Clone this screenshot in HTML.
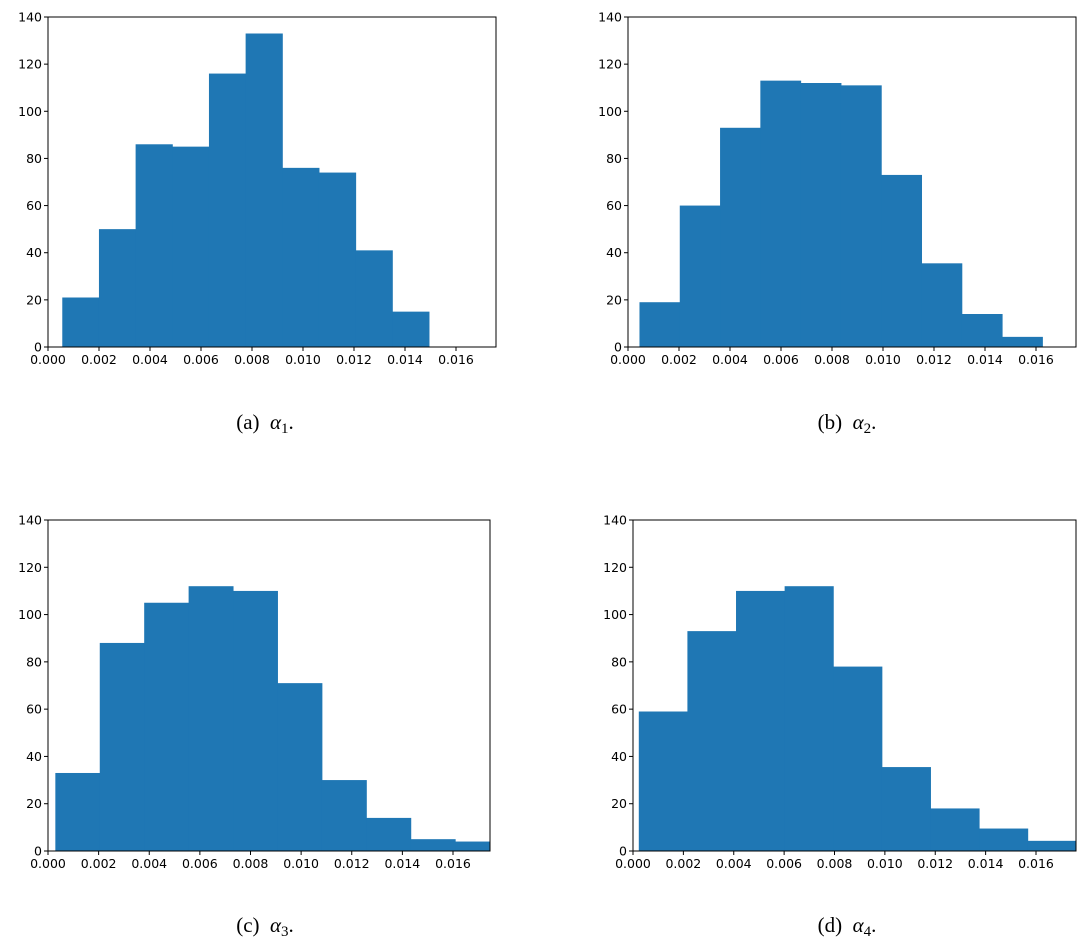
<!DOCTYPE html>
<html><head><meta charset="utf-8">
<style>
html,body{margin:0;padding:0;background:#fff;}
svg{display:block;}
text{font-family:"DejaVu Sans","Liberation Sans",sans-serif;}
.cap{font-family:"Liberation Serif","DejaVu Serif",serif;font-size:21px;}
</style></head>
<body>
<svg id="fig" width="1080" height="939" viewBox="0 0 1080 939"></svg>
<script>
// panel data
const countsA = [21,50,86,85,116,133,76,74,41,15];
const startA = 0.00056, widthA = 0.001438;
const countsB = [19,60,93,113,112,111,73,35.5,14,4.3];
const startB = 0.00045, widthB = 0.00158;
const countsC = [33,88,105,112,110,71,30,14,5,4];
const startC = 0.00029, widthC = 0.001755;
const countsD = [59,93,110,112,78,35.5,18,9.5,4.3];
const startD = 0.00023, widthD = 0.00193;
const xTicks = [0,0.002,0.004,0.006,0.008,0.010,0.012,0.014,0.016];
const xTickLabels = ["0.000","0.002","0.004","0.006","0.008","0.010","0.012","0.014","0.016"];
const yTicks = [0,20,40,60,80,100,120,140];
const captionLetters = ["(a)","(b)","(c)","(d)"];

const NS="http://www.w3.org/2000/svg";
const svg=document.getElementById('fig');
function mk(tag,attrs,parent){const e=document.createElementNS(NS,tag);for(const k in attrs)e.setAttribute(k,attrs[k]);(parent||svg).appendChild(e);return e;}

const panels=[
 {id:'a',counts:countsA,start:startA,width:widthA,L:48,R:496,T:17,B:347,x16:456,cx:265,cy:431},
 {id:'b',counts:countsB,start:startB,width:widthB,L:628,R:1076,T:17,B:347,x16:1036,cx:847,cy:431},
 {id:'c',counts:countsC,start:startC,width:widthC,L:48,R:490,T:520,B:851,x16:453,cx:265,cy:934},
 {id:'d',counts:countsD,start:startD,width:widthD,L:633,R:1076,T:520,B:851,x16:1036,cx:847,cy:934}
];

panels.forEach((p,pi)=>{
  const g=mk('g',{});
  
  
  const xs=v=>p.L+v*(p.x16-p.L)/0.016;
  const ys=v=>p.B-v*(p.B-p.T)/140;
  const clipId='clip'+p.id;
  const cp=mk('clipPath',{id:clipId},g);
  mk('rect',{x:p.L,y:p.T,width:p.R-p.L,height:p.B-p.T},cp);
  const bars=mk('g',{'clip-path':'url(#'+clipId+')'},g);
  p.counts.forEach((c,i)=>{
    const x0=xs(p.start+i*p.width), x1=xs(p.start+(i+1)*p.width);
    const r=mk('rect',{x:x0,y:ys(c),width:x1-x0+0.5,height:p.B-ys(c),fill:'#1f77b4'},bars);
    
    
  });
  const fr=mk('rect',{x:p.L,y:p.T,width:p.R-p.L,height:p.B-p.T,fill:'none',stroke:'#000','stroke-width':1},g);
  
  
  xTicks.forEach((t,i)=>{
    const x=xs(t);
    mk('line',{x1:x,x2:x,y1:p.B,y2:p.B+4,stroke:'#000','stroke-width':1},g);
    const tx=mk('text',{x:x,y:p.B+17,'font-size':12.5,'text-anchor':'middle',fill:'#000'},g);
    tx.textContent=xTickLabels[i];
    
    
  });
  yTicks.forEach(t=>{
    const y=ys(t);
    mk('line',{x1:p.L-4,x2:p.L,y1:y,y2:y,stroke:'#000','stroke-width':1},g);
    const tx=mk('text',{x:p.L-6,y:y+4.5,'font-size':12.5,'text-anchor':'end',fill:'#000'},g);
    tx.textContent=String(t);
    
    
  });
  const cap=mk('text',{x:p.cx,y:p.cy-2,'text-anchor':'middle',class:'cap',fill:'#000'},g);
  cap.innerHTML=captionLetters[pi]+'\u2002<tspan font-style="italic">α</tspan><tspan font-size="15" dy="4">'+(pi+1)+'</tspan><tspan dy="-4">.</tspan>';
  
  
});
</script>
</body></html>
